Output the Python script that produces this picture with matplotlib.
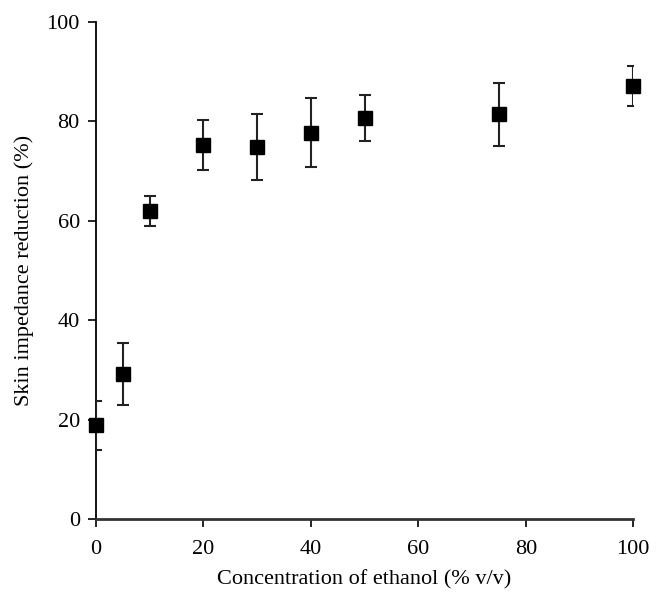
import matplotlib
matplotlib.use('Agg')
import matplotlib.pyplot as plt

plt.rcParams['font.family'] = ['Liberation Serif', 'DejaVu Serif']

# ethanol concentration (% v/v) and skin impedance reduction (%)
ethanol = [0, 5, 10, 20, 30, 40, 50, 75, 100]
reduction = [18.9, 29.2, 62.0, 75.2, 74.8, 77.7, 80.7, 81.4, 87.0]
error = [4.9, 6.3, 3.0, 5.0, 6.6, 6.9, 4.6, 6.3, 4.0]

fig = plt.figure(figsize=(6.61, 6.03), dpi=100)
ax = fig.add_axes([0.145, 0.139, 0.813, 0.825])

# error bars (clipped at the axes), markers drawn on top unclipped
ax.errorbar(ethanol, reduction, yerr=error, fmt='none',
            ecolor='#222222', elinewidth=1.5, capsize=4, capthick=1.5,
            zorder=3)
ax.plot(ethanol, reduction, 's', color='black', markersize=9.5,
        clip_on=False, zorder=4)

ax.set_xlim(0, 100)
ax.set_ylim(0, 100)
ax.set_xticks([0, 20, 40, 60, 80, 100])
ax.set_yticks([0, 20, 40, 60, 80, 100])

ax.spines['top'].set_visible(False)
ax.spines['right'].set_visible(False)
ax.spines['left'].set_linewidth(1.3)
ax.spines['bottom'].set_linewidth(2)
ax.spines['bottom'].set_color('#333333')
ax.tick_params(axis='both', direction='out', length=6, width=1.2, labelsize=16)
ax.tick_params(axis='x', pad=9)
ax.tick_params(axis='y', pad=5.5)

ax.set_xlabel('Concentration of ethanol (% v/v)', fontsize=16, labelpad=8)
ax.set_ylabel('Skin impedance reduction (%)', fontsize=16, labelpad=9)

fig.savefig('out.png', dpi=100)
